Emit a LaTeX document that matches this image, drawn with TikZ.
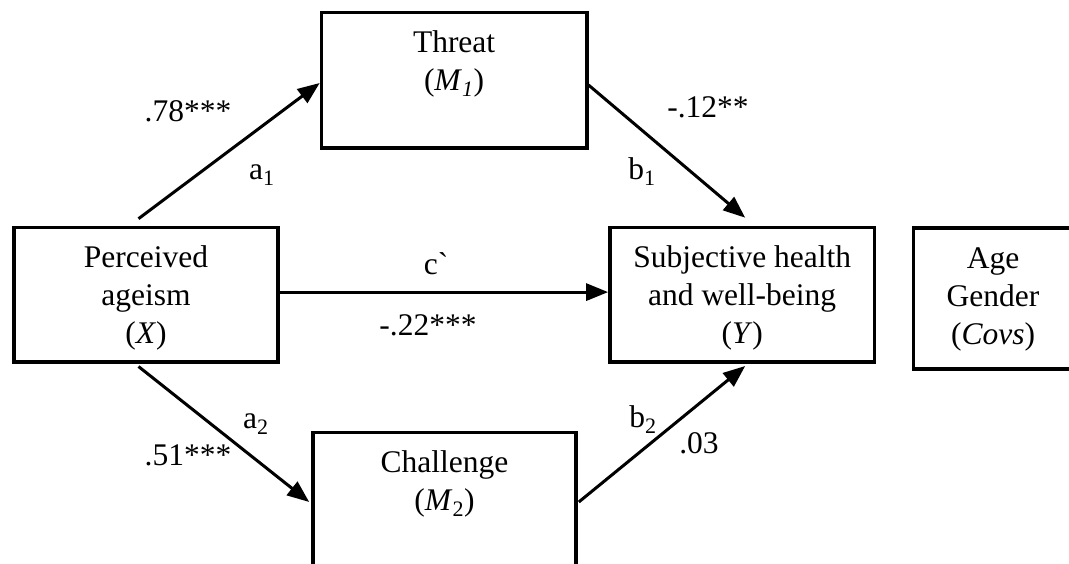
\documentclass[tikz,border=0pt]{standalone}
\usepackage{fontspec}
\setmainfont{Liberation Serif}
\newfontfamily\rawserif{Liberation Serif}[Ligatures=TeXOff]
\usetikzlibrary{arrows.meta,calc}
\begin{document}
\begin{tikzpicture}[x=1pt,y=-1pt,
  font=\fontsize{31.5}{38}\selectfont,
  boxshape/.style={draw, line width=3.6pt, inner sep=0pt, rectangle},
  boxtext/.style={anchor=north, align=center, inner sep=0pt},
  conn/.style={line width=3pt, -{Triangle[length=22pt,width=17pt]}},
  lbl/.style={anchor=base, inner sep=0pt}]
\path[use as bounding box, clip] (0,0) rectangle (1069,564);
% boxes
\node[boxshape, minimum width=265.2pt, minimum height=135.6pt] (T) at (454.1,80.5) {};
\node[boxshape, minimum width=264pt, minimum height=134.2pt] (X) at (146,294.6) {};
\node[boxshape, minimum width=264.5pt, minimum height=134.2pt] (Y) at (742.2,294.6) {};
\node[boxshape, minimum width=161.4pt, minimum height=141pt] (V) at (994.3,298.5) {};
\node[boxshape, minimum width=263pt, minimum height=137.3pt] (C) at (444.5,501.3) {};
% box texts
\node[boxtext] (Tt) at (454.1,26.1) {\strut Threat\\\strut(\textit{M}\textsubscript{\textit{1}})};
\node[boxtext] (Xt) at (146,240.9) {\strut Perceived\\\strut ageism\\\strut(\textit{X})};
\node[boxtext] (Yt) at (742.2,240.9) {\strut Subjective health\\\strut and well-being\\\strut(\textit{Y})};
\node[boxtext] (Vt) at (993,241.4) {\strut Age\\\strut Gender\\\strut(\textit{Covs})};
\node[boxtext] (Ct) at (444.5,446.1) {\strut Challenge\\\strut(\textit{M}\textsubscript{2})};
% connectors
\draw[conn] ($(X.north)+(-7.5,-7)$) -- ($(T.west)+(0,2.5)$);
\draw[conn] ($(T.east)+(0,4.5)$) -- ($(Y.north)+(3,-8)$);
\draw[conn] ($(X.east)+(0,-2.5)$) -- ($(Y.west)+(0,-2.5)$);
\draw[conn] ($(X.south)+(-7.5,3)$) -- ($(C.west)+(-2,0.7)$);
\draw[conn] ($(C.east)+(1,0.7)$) -- ($(Y.south)+(3,2.5)$);
% labels
\node[lbl] (l78) at (188,122) {.78***};
\node[lbl] (la1) at (262,180) {a\textsubscript{1}};
\node[lbl] (l12) at (708,118) {-.12**};
\node[lbl] (lb1) at (642,180) {b\textsubscript{1}};
\node[lbl] (lc) at (436,275) {c{\rawserif`}};
\node[lbl] (l22) at (428,335) {-.22***};
\node[lbl] (la2) at (256,428) {a\textsubscript{2}};
\node[lbl] (l51) at (188,465) {.51***};
\node[lbl] (lb2) at (643,427) {b\textsubscript{2}};
\node[lbl] (l03) at (699,453) {.03};
\end{tikzpicture}
\end{document}
